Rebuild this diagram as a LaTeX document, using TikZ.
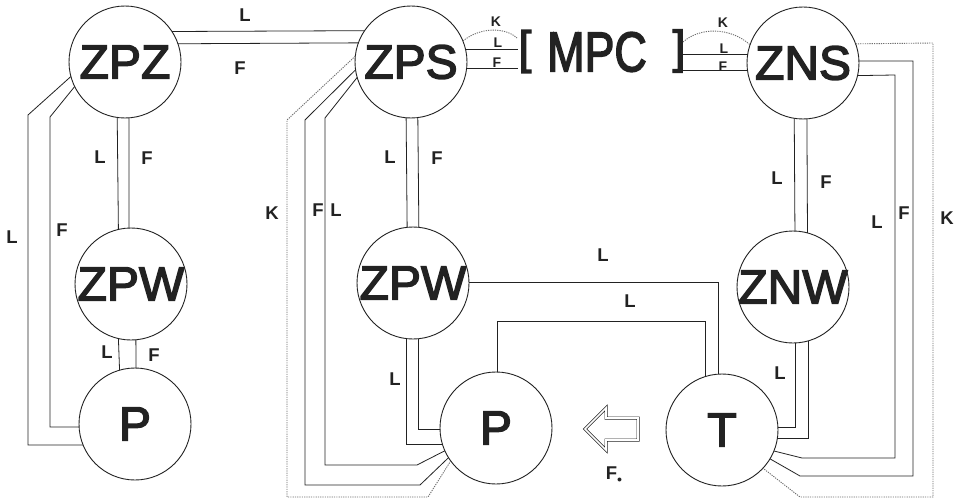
\documentclass[tikz,border=0pt]{standalone}
\usepackage{fontspec}
\setmainfont{Liberation Sans}
\newfontfamily\bigfam[FakeBold=3]{Liberation Sans}
\usetikzlibrary{calc}
\definecolor{ink}{HTML}{222222}
\definecolor{kgray}{HTML}{6E6E6E}
\begin{document}
\begin{tikzpicture}[x=1pt,y=-1pt,
 circ/.style={circle,draw=ink,line width=0.9pt,minimum size=112pt,inner sep=0pt,outer sep=0pt},
 big/.style={font=\bigfam\fontsize{48}{48}\selectfont,text=ink,inner sep=0pt},
 mpcfont/.style={font=\bigfam\fontsize{56}{56}\selectfont,text=ink,inner sep=0pt,xscale=0.8},
 brk/.style={font=\bigfam\fontsize{46}{46}\selectfont,text=ink,inner sep=0pt},
 lab/.style={font=\fontsize{18.5}{18.5}\selectfont\bfseries,text=ink,inner sep=0pt},
 mlab/.style={font=\fontsize{14}{14}\selectfont\bfseries,text=ink,inner sep=0pt},
 wire/.style={draw=ink,line width=0.8pt},
 kwire/.style={draw=kgray,line width=0.9pt,dash pattern=on 1.2pt off 1.1pt}]
\fill[white] (0,0) rectangle (959,503);
\useasboundingbox (0,0) rectangle (959,503);

% circles
\node[circ] (ZPZ) at (125,62) {};
\node[circ] (ZPS) at (411,62) {};
\node[circ] (ZNS) at (803,63) {};
\node[circ] (ZPWa) at (131,284) {};
\node[circ] (Pa) at (135,424) {};
\node[circ] (ZPWb) at (413,283) {};
\node[circ] (Pb) at (496,428) {};
\node[circ] (ZNW) at (793,287) {};
\node[circ] (T) at (722,430) {};

\node[big] (tZPZ) at (ZPZ) {ZPZ};
\node[big] (tZPS) at (ZPS) {ZPS};
\node[big] (tZNS) at (ZNS) {ZNS};
\node[big] (tZPWa) at (ZPWa) {ZPW};
\node[big] (tPa) at (Pa) {P};
\node[big] (tZPWb) at (ZPWb) {ZPW};
\node[big] (tPb) at (Pb) {P};
\node[big] (tZNW) at (ZNW) {ZNW};
\node[big] (tT) at (T) {T};

% MPC
\node[brk] (lbr) at (525,51.5) {[};
\node[mpcfont] (mpc) at (597,52) {MPC};
\node[brk] (rbr) at (679,51) {]};

% ZPZ - ZPS
\draw[wire] (ZPZ.33.6) -- (ZPS.146.4);
\draw[wire] (ZPZ.19.8) -- (ZPS.160.2);
\node[lab] (l1) at (245,15) {L};
\node[lab] (f1) at (240,68) {F};

% ZPZ - ZPWa
\draw[wire] (ZPZ.262.8) -- (ZPWa.103.4);
\draw[wire] (ZPZ.274.1) -- (ZPWa.92);
\node[lab] (l2) at (100,157) {L};
\node[lab] (f2) at (147,158) {F};

% ZPWa - Pa
\draw[wire] (ZPWa.257.6) -- (Pa.106.6);
\draw[wire] (ZPWa.275.1) -- (Pa.89);
\node[lab] (l3) at (107,352) {L};
\node[lab] (f3) at (154,355) {F};

% ZPZ - Pa outer loop
\draw[wire] (ZPZ.195.5) -- (28,115) -- (28,445) -- (Pa.202);
\draw[wire] (ZPZ.206.1) -- (50,117) -- (50,427) -- (Pa.183.1);
\node[lab] (l4) at (12,237) {L};
\node[lab] (f4) at (62,230) {F};

% ZPS - ZPWb
\draw[wire] (ZPS.265.9) -- (ZPWb.96.2);
\draw[wire] (ZPS.277.2) -- (ZPWb.84.9);
\node[lab] (l5) at (390,157) {L};
\node[lab] (f5) at (437,158) {F};

% ZPS - Pb three lines
\draw[kwire] (ZPS.174.9) -- (287,120) -- (287,497) -- (428,497) -- (Pb.216);
\draw[wire] (ZPS.188.2) -- (305,120) -- (305,485) -- (420,485) -- (Pb.212);
\draw[wire] (ZPS.196.6) -- (325,118) -- (325,465) -- (417,465) -- (Pb.204);
\node[lab] (k6) at (272,213) {K};
\node[lab] (f6) at (318,210) {F};
\node[lab] (l6) at (336,210) {L};

% ZPWb - Pb
\draw[wire] (ZPWb.263.8) |- (Pb.197.7);
\draw[wire] (ZPWb.276.2) |- (Pb.181);
\node[lab] (l7) at (395,379) {L};

% ZPWb - T
\draw[wire] (ZPWb.1) -| (T.94.1);
\node[lab] (l8) at (603,255) {L};

% Pb - T
\coordinate (yPT) at (0,321);
\draw[wire] (Pb.89) -- (Pb.89 |- yPT) -| (T.107.7);
\node[lab] (l9) at (630,301) {L};

% ZNS - ZNW
\draw[wire] (ZNS.261.8) -- (ZNW.88);
\draw[wire] (ZNS.274.1) -- (ZNW.75.5);
\node[lab] (l10) at (777,178) {L};
\node[lab] (f10) at (826,182) {F};

% ZNW - T
\draw[wire] (ZNW.272) |- (T.3.1);
\draw[wire] (ZNW.286.6) |- (T.351.8);
\node[lab] (l11) at (780,373) {L};

% ZNS - T right loop
\draw[wire] (ZNS.2) -- (913,61) -- (913,476) -- (800,476) -- (T.329.5);
\draw[wire] (ZNS.347.6) -- (895,75) -- (895,458) -- (802,458) -- (T.338.2);
\draw[kwire] (ZNS.20.9) -- (933,43) -- (933,497) -- (800,497) -- (T.317.7);
\node[lab] (l12) at (877,222) {L};
\node[lab] (f12) at (904,213) {F};
\node[lab] (k12) at (947,218) {K};

% ZPS - MPC
\coordinate (kL) at (517,38);
\draw[wire] (ZPS.13.4) -- (ZPS.13.4 -| lbr.west);
\draw[wire] (ZPS.353.8) -- (ZPS.353.8 -| lbr.west);
\draw[kwire] (ZPS.22) .. controls (480,27) and (505,27) .. (kL);
\node[mlab] (k13) at (496,22) {K};
\node[mlab,anchor=base] (l13) at (498,48) {L};
\node[mlab,anchor=base] (f13) at (497,67) {F};

% MPC - ZNS
\coordinate (kR) at (683,42);
\draw[wire] (rbr.center |- ZNS.171.8) -- (ZNS.171.8);
\draw[wire] (rbr.center |- ZNS.188.2) -- (ZNS.188.2);
\draw[kwire] (kR) .. controls (700,27) and (730,27) .. (ZNS.161.3);
\node[mlab] (k14) at (723,23) {K};
\node[mlab,anchor=base] (l14) at (724,54) {L};
\node[mlab,anchor=base] (f14) at (723,71) {F};

% hollow arrow
\draw[draw=ink,line width=0.7pt,double=white,double distance=1.6pt,line join=miter]
  (585,429) -- (606,408) -- (606,418) -- (638,418) -- (638,440) -- (606,440) -- (606,450) -- cycle;
\node[lab] (fo) at (614,475) {F\raisebox{-3pt}{\fontsize{10}{10}\selectfont$\bullet$}};
\end{tikzpicture}
\end{document}
